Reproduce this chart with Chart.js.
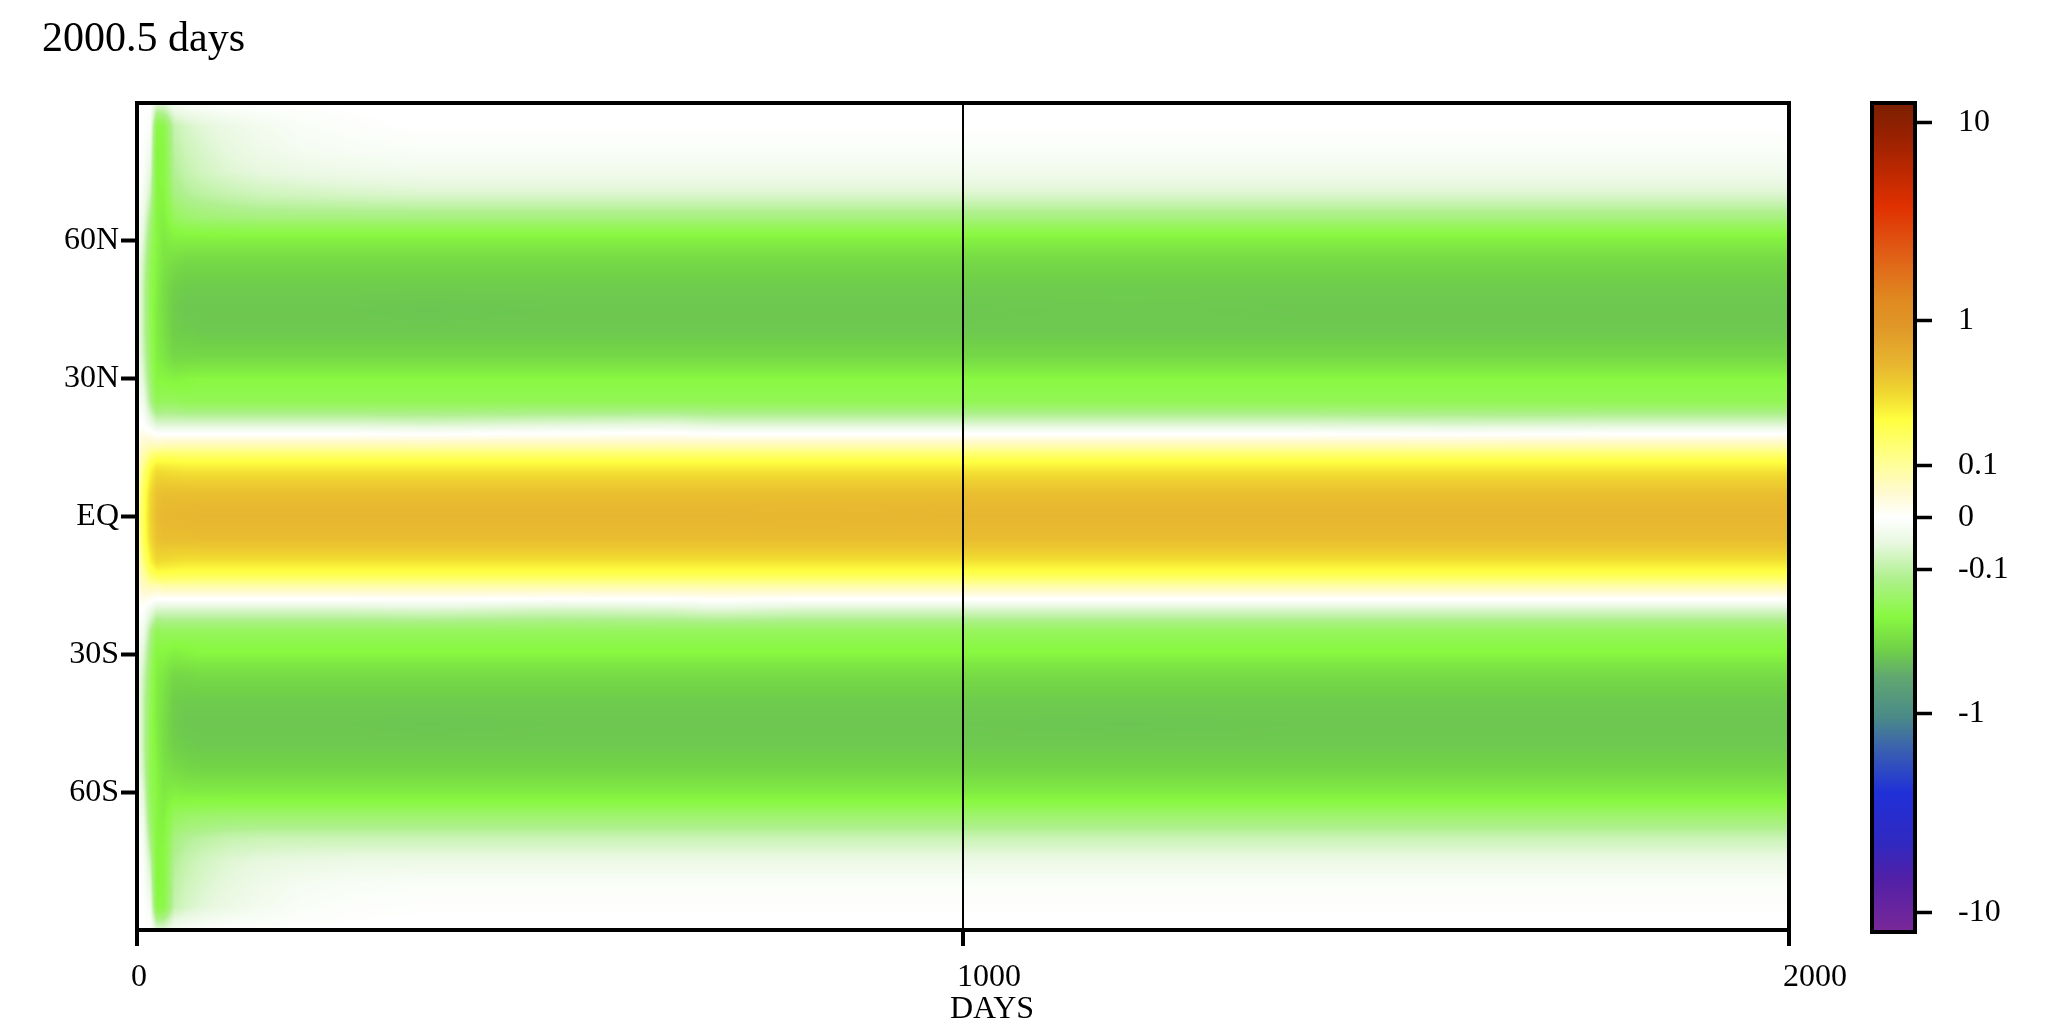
<!DOCTYPE html>
<html><head><meta charset="utf-8">
<script src="https://cdn.jsdelivr.net/npm/chart.js@4/dist/chart.umd.min.js"></script>
<style>
html,body{margin:0;padding:0;background:#fff;}
#wrap{position:relative;width:2050px;height:1034px;background:#fff;}
canvas{position:absolute;left:0;top:0;}
</style></head><body>
<div id="wrap"><canvas id="main" width="2050" height="1034"></canvas><canvas id="cbar" width="2050" height="1034"></canvas></div>
<script>
// ---------------- data ----------------
const titleText = '2000.5 days';
const xAxisTitle = 'DAYS';
const latitudes = [-90,-85,-80,-75,-70,-65,-60,-55,-50,-45,-40,-35,-30,-25,-20,-15,-10,-5,0,5,10,15,20,25,30,35,40,45,50,55,60,65,70,75,80,85,90];
const days = [0,8,16,24,32,45,60,80,110,150,200,260,350,500,650,700,800,1000,1200,1400,1600,1800,2000];
// one latitude profile (south -> north) per entry of `days`
const field = [
 [0,0,0,0,0,-0.005,-0.01,-0.015,-0.02,-0.02,-0.02,-0.02,-0.015,-0.01,0,0.03,0.06,0.08,0.09,0.08,0.06,0.03,0,-0.01,-0.015,-0.02,-0.02,-0.02,-0.02,-0.015,-0.01,-0.005,0,0,0,0,0],
 [0,0,-0.005,-0.01,-0.02,-0.04,-0.06,-0.08,-0.09,-0.09,-0.09,-0.08,-0.06,-0.03,0,0.06,0.12,0.16,0.17,0.16,0.12,0.06,0,-0.03,-0.06,-0.08,-0.09,-0.09,-0.09,-0.08,-0.06,-0.04,-0.02,-0.01,-0.005,0,0],
 [0,-0.02,-0.05,-0.08,-0.12,-0.15,-0.17,-0.18,-0.18,-0.18,-0.17,-0.16,-0.14,-0.11,-0.03,0.08,0.22,0.3,0.32,0.3,0.22,0.08,-0.03,-0.11,-0.14,-0.16,-0.17,-0.18,-0.18,-0.17,-0.15,-0.12,-0.08,-0.05,-0.03,-0.01,0],
 [-0.05,-0.2,-0.22,-0.22,-0.22,-0.22,-0.22,-0.23,-0.24,-0.25,-0.25,-0.24,-0.22,-0.18,-0.06,0.08,0.3,0.42,0.45,0.42,0.3,0.08,-0.06,-0.18,-0.22,-0.24,-0.25,-0.25,-0.24,-0.23,-0.22,-0.22,-0.22,-0.22,-0.22,-0.2,-0.05],
 [-0.05,-0.2,-0.21,-0.21,-0.22,-0.24,-0.26,-0.28,-0.3,-0.3,-0.29,-0.27,-0.22,-0.17,-0.06,0.09,0.29,0.44,0.48,0.44,0.29,0.09,-0.06,-0.17,-0.22,-0.27,-0.29,-0.3,-0.3,-0.28,-0.26,-0.24,-0.22,-0.21,-0.21,-0.2,-0.05],
 [-0.02,-0.09,-0.1,-0.11,-0.13,-0.17,-0.24,-0.31,-0.36,-0.38,-0.37,-0.33,-0.24,-0.17,-0.06,0.09,0.28,0.44,0.49,0.44,0.28,0.09,-0.06,-0.17,-0.23,-0.33,-0.37,-0.38,-0.36,-0.31,-0.24,-0.17,-0.13,-0.11,-0.1,-0.09,-0.02],
 [-0.01,-0.07,-0.08,-0.09,-0.11,-0.16,-0.25,-0.33,-0.38,-0.4,-0.38,-0.33,-0.23,-0.17,-0.06,0.09,0.27,0.44,0.49,0.44,0.27,0.09,-0.06,-0.18,-0.22,-0.33,-0.38,-0.4,-0.38,-0.33,-0.24,-0.15,-0.11,-0.09,-0.08,-0.07,-0.01],
 [-0.005,-0.055,-0.065,-0.075,-0.1,-0.155,-0.25,-0.34,-0.39,-0.4,-0.38,-0.32,-0.22,-0.17,-0.06,0.09,0.27,0.45,0.5,0.44,0.27,0.09,-0.06,-0.18,-0.21,-0.33,-0.39,-0.4,-0.38,-0.33,-0.24,-0.14,-0.1,-0.075,-0.065,-0.055,-0.005],
 [0,-0.04,-0.05,-0.06,-0.09,-0.15,-0.25,-0.34,-0.39,-0.4,-0.38,-0.32,-0.22,-0.17,-0.06,0.09,0.27,0.45,0.5,0.44,0.27,0.09,-0.06,-0.18,-0.21,-0.33,-0.39,-0.4,-0.38,-0.33,-0.24,-0.135,-0.09,-0.06,-0.05,-0.04,0],
 [0,-0.025,-0.035,-0.05,-0.085,-0.15,-0.25,-0.34,-0.39,-0.4,-0.38,-0.32,-0.22,-0.17,-0.06,0.09,0.27,0.45,0.5,0.44,0.27,0.09,-0.06,-0.18,-0.21,-0.33,-0.39,-0.4,-0.38,-0.33,-0.24,-0.13,-0.08,-0.05,-0.035,-0.025,0],
 [0,-0.012,-0.022,-0.045,-0.085,-0.15,-0.25,-0.34,-0.39,-0.4,-0.38,-0.32,-0.22,-0.17,-0.06,0.09,0.27,0.45,0.5,0.44,0.27,0.09,-0.06,-0.18,-0.21,-0.33,-0.39,-0.4,-0.38,-0.33,-0.24,-0.13,-0.075,-0.042,-0.022,-0.012,0],
 [0,-0.005,-0.015,-0.04,-0.085,-0.15,-0.25,-0.34,-0.39,-0.4,-0.38,-0.32,-0.22,-0.17,-0.06,0.09,0.27,0.45,0.5,0.44,0.27,0.09,-0.06,-0.18,-0.21,-0.33,-0.39,-0.4,-0.38,-0.33,-0.24,-0.13,-0.07,-0.035,-0.015,-0.005,0],
 [0,-0.003,-0.01,-0.04,-0.085,-0.15,-0.25,-0.34,-0.39,-0.41,-0.38,-0.32,-0.22,-0.17,-0.055,0.09,0.27,0.45,0.5,0.44,0.27,0.09,-0.065,-0.18,-0.21,-0.33,-0.39,-0.41,-0.38,-0.33,-0.24,-0.13,-0.065,-0.03,-0.01,0,0],
 [0,-0.003,-0.01,-0.04,-0.085,-0.15,-0.25,-0.34,-0.39,-0.4,-0.38,-0.32,-0.22,-0.17,-0.065,0.09,0.27,0.45,0.5,0.44,0.27,0.09,-0.055,-0.18,-0.21,-0.33,-0.39,-0.4,-0.38,-0.33,-0.24,-0.13,-0.065,-0.03,-0.01,0,0],
 [0,-0.003,-0.01,-0.04,-0.085,-0.15,-0.25,-0.34,-0.39,-0.4,-0.38,-0.32,-0.22,-0.17,-0.06,0.09,0.27,0.45,0.5,0.44,0.27,0.09,-0.05,-0.18,-0.21,-0.33,-0.39,-0.4,-0.38,-0.33,-0.24,-0.13,-0.065,-0.03,-0.01,0,0],
 [0,-0.003,-0.01,-0.04,-0.085,-0.15,-0.25,-0.34,-0.39,-0.4,-0.38,-0.32,-0.22,-0.17,-0.05,0.09,0.27,0.45,0.5,0.44,0.27,0.09,-0.06,-0.18,-0.21,-0.33,-0.39,-0.4,-0.38,-0.33,-0.24,-0.13,-0.065,-0.03,-0.01,0,0],
 [0,-0.003,-0.01,-0.04,-0.085,-0.15,-0.25,-0.34,-0.39,-0.4,-0.38,-0.32,-0.22,-0.17,-0.06,0.09,0.27,0.45,0.49,0.44,0.27,0.09,-0.06,-0.18,-0.21,-0.33,-0.39,-0.4,-0.38,-0.33,-0.24,-0.13,-0.065,-0.03,-0.01,0,0],
 [0,-0.003,-0.01,-0.04,-0.085,-0.15,-0.25,-0.34,-0.39,-0.4,-0.38,-0.32,-0.22,-0.17,-0.06,0.09,0.27,0.45,0.5,0.44,0.27,0.09,-0.06,-0.18,-0.21,-0.33,-0.39,-0.4,-0.38,-0.33,-0.24,-0.13,-0.065,-0.03,-0.01,0,0],
 [0,-0.003,-0.01,-0.04,-0.085,-0.15,-0.25,-0.34,-0.39,-0.41,-0.38,-0.32,-0.22,-0.17,-0.06,0.09,0.27,0.45,0.5,0.44,0.27,0.09,-0.06,-0.18,-0.21,-0.33,-0.39,-0.39,-0.38,-0.33,-0.24,-0.13,-0.065,-0.03,-0.01,0,0],
 [0,-0.003,-0.01,-0.04,-0.085,-0.15,-0.25,-0.34,-0.39,-0.4,-0.38,-0.32,-0.22,-0.17,-0.06,0.09,0.27,0.45,0.5,0.44,0.27,0.09,-0.06,-0.18,-0.21,-0.33,-0.39,-0.4,-0.38,-0.33,-0.24,-0.13,-0.065,-0.03,-0.01,0,0],
 [0,-0.003,-0.01,-0.04,-0.085,-0.15,-0.25,-0.34,-0.39,-0.4,-0.38,-0.32,-0.22,-0.17,-0.06,0.09,0.27,0.45,0.5,0.44,0.27,0.09,-0.065,-0.18,-0.21,-0.33,-0.39,-0.4,-0.38,-0.33,-0.24,-0.13,-0.065,-0.03,-0.01,0,0],
 [0,-0.003,-0.01,-0.04,-0.085,-0.15,-0.25,-0.34,-0.39,-0.4,-0.38,-0.32,-0.22,-0.17,-0.06,0.09,0.27,0.45,0.5,0.44,0.27,0.09,-0.06,-0.18,-0.21,-0.33,-0.39,-0.4,-0.38,-0.33,-0.24,-0.13,-0.065,-0.03,-0.01,0,0],
 [0,-0.003,-0.01,-0.04,-0.085,-0.15,-0.25,-0.34,-0.39,-0.4,-0.38,-0.32,-0.22,-0.17,-0.06,0.09,0.27,0.45,0.5,0.44,0.27,0.09,-0.06,-0.18,-0.21,-0.33,-0.39,-0.4,-0.38,-0.33,-0.24,-0.13,-0.065,-0.03,-0.01,0,0]
];
const xTickValues = [0, 1000, 2000];
const xTickLabels = ['0', '1000', '2000'];
const yTickValues = [-60, -30, 0, 30, 60];
const yTickLabels = ['60S', '30S', 'EQ', '30N', '60N'];
const cbTickValues = [-10, -1, -0.1, 0, 0.1, 1, 10];
const cbTickLabels = ['-10', '-1', '-0.1', '0', '0.1', '1', '10'];
// fraction of the colour bar (bottom=0, top=1) at which each tick value sits
const cbTickFracs = [0.024, 0.264, 0.437, 0.5, 0.563, 0.738, 0.976];

// ---------------- colour map ----------------
const cmapFracs  = [0.0, 0.066, 0.107, 0.168, 0.220, 0.259, 0.308, 0.340, 0.380, 0.428, 0.469, 0.5, 0.530, 0.569, 0.618, 0.650, 0.682, 0.726, 0.762, 0.823, 0.875, 0.964, 1.0];
const cmapColors = ['#7a2898','#5020a8','#3028c0','#2030d8','#3a60b0','#4a8a88','#60a870','#70d048','#88f840','#b0f090','#e8f8e0','#ffffff','#fffad0','#ffff90','#ffff40','#f0d830','#e8b830','#e09a28','#e08a20','#e05a15','#e03000','#952000','#7a2000'];

function hexToRgb(h){ return [parseInt(h.slice(1,3),16), parseInt(h.slice(3,5),16), parseInt(h.slice(5,7),16)]; }
const cmapRgb = cmapColors.map(hexToRgb);
const LUTN = 2048;
const lut = new Uint8ClampedArray(LUTN*3);
for (let i = 0; i < LUTN; i++) {
  const f = i/(LUTN-1);
  let k = 0; while (k < cmapFracs.length-2 && f > cmapFracs[k+1]) k++;
  const t = Math.min(1, Math.max(0, (f - cmapFracs[k])/(cmapFracs[k+1]-cmapFracs[k])));
  for (let c = 0; c < 3; c++) lut[i*3+c] = Math.round(cmapRgb[k][c] + t*(cmapRgb[k+1][c]-cmapRgb[k][c]));
}
function valueToFrac(v){
  const V = cbTickValues, F = cbTickFracs, n = V.length;
  let f;
  if (v >= V[n-1]) f = F[n-1] + (F[n-1]-F[n-2]) * Math.log10(v / V[n-1]);
  else if (v <= V[0]) f = F[0] - (F[1]-F[0]) * Math.log10(v / V[0]);
  else {
    let k = 0; while (k < n-2 && v > V[k+1]) k++;
    const a = V[k], b = V[k+1];
    let t;
    if (a*b > 0) t = (Math.log10(Math.abs(v)) - Math.log10(Math.abs(a))) / (Math.log10(Math.abs(b)) - Math.log10(Math.abs(a)));
    else t = (v - a)/(b - a);
    f = F[k] + t*(F[k+1]-F[k]);
  }
  return Math.min(1, Math.max(0, f));
}

// ---------------- plugins ----------------
function locate(arr, v){
  let k = 0; while (k < arr.length-2 && v > arr[k+1]) k++;
  const t = Math.min(1, Math.max(0, (v - arr[k])/(arr[k+1]-arr[k])));
  return [k, t];
}
const heatPlugin = {
  id: 'heat',
  beforeDatasetsDraw(chart) {
    const {ctx, chartArea: a, scales} = chart;
    const xs = scales.x, ys = scales.y;
    const x0 = Math.round(a.left), x1 = Math.round(a.right), y0 = Math.round(a.top), y1 = Math.round(a.bottom);
    const w = x1 - x0, h = y1 - y0;
    const img = ctx.createImageData(w, h);
    const ci = new Int32Array(w), ct = new Float32Array(w);
    for (let i = 0; i < w; i++) { const r = locate(days, xs.getValueForPixel(x0 + i + 0.5)); ci[i] = r[0]; ct[i] = r[1]; }
    const ri = new Int32Array(h), rt = new Float32Array(h);
    for (let j = 0; j < h; j++) { const r = locate(latitudes, ys.getValueForPixel(y0 + j + 0.5)); ri[j] = r[0]; rt[j] = r[1]; }
    for (let j = 0; j < h; j++) {
      const k = ri[j], s = rt[j];
      for (let i = 0; i < w; i++) {
        const c = ci[i], t = ct[i];
        const A = field[c], B = field[c+1];
        const va = A[k] + s*(A[k+1]-A[k]);
        const vb = B[k] + s*(B[k+1]-B[k]);
        const v = va + t*(vb - va);
        const li = Math.round(valueToFrac(v)*(LUTN-1))*3;
        const p = (j*w + i)*4;
        img.data[p] = lut[li]; img.data[p+1] = lut[li+1]; img.data[p+2] = lut[li+2]; img.data[p+3] = 255;
      }
    }
    ctx.putImageData(img, x0, y0);
  }
};
const framePlugin = {
  id: 'frame',
  afterDraw(chart, args, opts) {
    const {ctx, chartArea: a} = chart;
    ctx.save();
    ctx.strokeStyle = '#000'; ctx.lineWidth = 4;
    ctx.strokeRect(a.left, a.top, a.right - a.left, a.bottom - a.top);
    if (opts && opts.xTitle) {
      ctx.fillStyle = '#000';
      ctx.font = '32px "Liberation Serif"';
      ctx.textAlign = 'center'; ctx.textBaseline = 'alphabetic';
      ctx.fillText(opts.xTitle, (a.left + a.right)/2 + 29, 1018);
    }
    ctx.restore();
  }
};
const cbPlugin = {
  id: 'cbfill',
  beforeDatasetsDraw(chart) {
    const {ctx, chartArea: a, scales} = chart;
    const ys = scales.y;
    const g = ctx.createLinearGradient(0, ys.getPixelForValue(0), 0, ys.getPixelForValue(1));
    cmapFracs.forEach((f, i) => g.addColorStop(f, cmapColors[i]));
    ctx.save(); ctx.fillStyle = g;
    ctx.fillRect(a.left, a.top, a.right - a.left, a.bottom - a.top);
    ctx.restore();
  }
};

const serif = 'Liberation Serif';

// ---------------- main chart ----------------
new Chart(document.getElementById('main'), {
  type: 'scatter',
  data: { datasets: [{ data: [], pointRadius: 0 }] },
  options: {
    responsive: false, animation: false, devicePixelRatio: 1,
    layout: { padding: { left: 42, right: 261, top: 15, bottom: 0 } },
    plugins: {
      legend: { display: false }, tooltip: { enabled: false },
      title: { display: true, text: titleText, align: 'start', color: '#000',
               font: { family: serif, size: 42, weight: 'normal', lineHeight: 1.2 }, padding: { top: 0, bottom: 37.6 } },
      frame: { xTitle: xAxisTitle }
    },
    scales: {
      x: {
        type: 'linear', min: 0, max: 2000,
        afterBuildTicks: s => { s.ticks = xTickValues.map(v => ({ value: v })); },
        afterFit: s => { s.height = 104; },
        border: { display: false },
        grid: { z: 1, drawOnChartArea: true, lineWidth: 2, tickLength: 16, tickWidth: 4, tickColor: '#000',
                color: c => (c.tick && c.tick.value === 1000) ? '#000' : 'rgba(0,0,0,0)' },
        ticks: { align: 'start', labelOffset: -6, padding: 12, color: '#000', maxRotation: 0, autoSkip: false,
                 font: { family: serif, size: 32 },
                 callback: v => xTickLabels[xTickValues.indexOf(v)] }
      },
      y: {
        type: 'linear', min: -90, max: 90,
        afterBuildTicks: s => { s.ticks = yTickValues.map(v => ({ value: v })); },
        afterFit: s => { s.width = 95; },
        border: { display: false },
        grid: { z: 1, drawOnChartArea: false, tickLength: 16, tickWidth: 4, tickColor: '#000', color: '#000' },
        ticks: { padding: 2, color: '#000', autoSkip: false, font: { family: serif, size: 32 },
                 callback: v => yTickLabels[yTickValues.indexOf(v)] }
      }
    }
  },
  plugins: [heatPlugin, framePlugin]
});

// ---------------- colour bar ----------------
new Chart(document.getElementById('cbar'), {
  type: 'scatter',
  data: { datasets: [] },
  options: {
    responsive: false, animation: false, devicePixelRatio: 1,
    layout: { padding: { left: 1872, right: 5, top: 103, bottom: 102 } },
    plugins: { legend: { display: false }, tooltip: { enabled: false }, title: { display: false } },
    scales: {
      x: { type: 'linear', display: false, min: 0, max: 1 },
      y: {
        type: 'linear', position: 'right', min: 0, max: 1,
        afterBuildTicks: s => { s.ticks = cbTickFracs.map(f => ({ value: f })); },
        afterFit: s => { s.width = 130; },
        border: { display: false },
        grid: { drawOnChartArea: false, tickLength: 17, tickWidth: 3.5, tickColor: '#000', color: '#000' },
        ticks: { padding: 26, color: '#000', autoSkip: false, font: { family: serif, size: 32 },
                 callback: v => cbTickLabels[cbTickFracs.indexOf(v)] }
      }
    }
  },
  plugins: [cbPlugin, framePlugin]
});
</script>
</body></html>
